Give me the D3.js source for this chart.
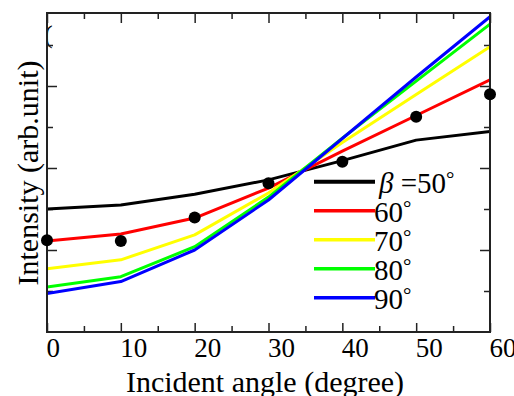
<!DOCTYPE html>
<html>
<head>
<meta charset="utf-8">
<script src="https://cdn.jsdelivr.net/npm/d3@7"></script>
<style>
  html, body { margin: 0; padding: 0; background: #fff; }
  svg { display: block; }
  svg text { font-family: "Liberation Serif", "Times New Roman", serif !important; fill: #000; }
</style>
</head>
<body>
<script>
// ---- data ----
const angles = [0, 10, 20, 30, 40, 50, 60];
const beta50 = [3.00, 3.10, 3.36, 3.71, 4.18, 4.68, 4.89];
const beta60 = [2.22, 2.39, 2.78, 3.51, 4.41, 5.28, 6.15];
const beta70 = [1.54, 1.76, 2.37, 3.39, 4.62, 5.79, 6.96];
const beta80 = [1.10, 1.35, 2.08, 3.29, 4.73, 6.12, 7.51];
const beta90 = [0.94, 1.23, 2.00, 3.22, 4.72, 6.22, 7.69];
const measured = [2.24, 2.22, 2.79, 3.63, 4.15, 5.25, 5.80];
const seriesNames = ["50", "60", "70", "80", "90"];
const seriesColors = ["#000000", "#ff0000", "#ffff00", "#00ff00", "#0000ff"];
const xMajorTicks = [0, 10, 20, 30, 40, 50, 60];
const xMinorTicks = [5, 15, 25, 35, 45, 55];
const yMajorTicks = [2, 4, 6];
const yMinorTicks = [1, 3, 5, 7];
const xTitle = "Incident angle (degree)";
const yTitle = "Intensity (arb.unit)";

const W = 514, H = 396;
const L = 47, R = 490, T = 13, B = 332;
const SERIF = '"Liberation Serif", "Times New Roman", serif';

const svg = d3.select("body").append("svg").attr("width", W).attr("height", H);

const x = d3.scaleLinear().domain([0, 60]).range([L, R]);
const y = d3.scaleLinear().domain([0, (B - T) / 41]).range([B, T]);

const allSeries = [beta50, beta60, beta70, beta80, beta90];

// clip
svg.append("clipPath").attr("id", "plotclip").append("rect")
  .attr("x", L).attr("y", T).attr("width", R - L).attr("height", B - T);

// small artifact "(" in top-left corner
svg.append("clipPath").attr("id", "artclip").append("rect")
  .attr("x", L + 1).attr("y", T).attr("width", 20).attr("height", 40);
svg.append("text").attr("clip-path", "url(#artclip)")
  .style("font-family", SERIF)
  .attr("x", L - 3).attr("y", 43).attr("font-size", 26).text("(");

// axes
const axisColor = "#222";
function styleAxis(g) {
  g.select(".domain").remove();
  g.selectAll(".tick line").attr("stroke", axisColor).attr("stroke-width", 1.5);
}
svg.append("g").attr("transform", `translate(0,${B})`)
  .call(d3.axisBottom(x).tickValues(xMajorTicks).tickSize(-9).tickPadding(25).tickFormat(d3.format("d")))
  .call(styleAxis)
  .call(g => g.attr("font-family", null).attr("font-size", null))
  .call(g => g.selectAll(".tick text")
    .attr("text-anchor", "start").attr("dy", 0).attr("x", -1)
    .style("font-family", SERIF).style("font-size", "27px").attr("fill", "#000"));
svg.append("g").attr("transform", `translate(0,${B})`)
  .call(d3.axisBottom(x).tickValues(xMinorTicks).tickSize(-6).tickFormat(""))
  .call(styleAxis);
svg.append("g").attr("transform", `translate(0,${T})`)
  .call(d3.axisTop(x).tickValues(xMajorTicks).tickSize(-10).tickFormat(""))
  .call(styleAxis);
svg.append("g").attr("transform", `translate(0,${T})`)
  .call(d3.axisTop(x).tickValues(xMinorTicks).tickSize(-6).tickFormat(""))
  .call(styleAxis);
svg.append("g").attr("transform", `translate(${L},0)`)
  .call(d3.axisLeft(y).tickValues(yMajorTicks).tickSize(-10).tickFormat(""))
  .call(styleAxis);
svg.append("g").attr("transform", `translate(${L},0)`)
  .call(d3.axisLeft(y).tickValues(yMinorTicks).tickSize(-6).tickFormat(""))
  .call(styleAxis);
svg.append("g").attr("transform", `translate(${R},0)`)
  .call(d3.axisRight(y).tickValues(yMajorTicks).tickSize(-10).tickFormat(""))
  .call(styleAxis);
svg.append("g").attr("transform", `translate(${R},0)`)
  .call(d3.axisRight(y).tickValues(yMinorTicks).tickSize(-6).tickFormat(""))
  .call(styleAxis);

// lines
const line = d3.line().x((d, i) => x(angles[i])).y(d => y(d));
const plot = svg.append("g").attr("clip-path", "url(#plotclip)");
allSeries.forEach((s, k) => {
  plot.append("path").datum(s)
    .attr("d", line).attr("fill", "none")
    .attr("stroke", seriesColors[k]).attr("stroke-width", 3)
    .attr("stroke-linejoin", "round");
});

// frame
svg.append("rect").attr("x", L).attr("y", T).attr("width", R - L).attr("height", B - T)
  .attr("fill", "none").attr("stroke", axisColor).attr("stroke-width", 2);

// measured dots
svg.append("g").selectAll("circle").data(measured).join("circle")
  .attr("cx", (d, i) => x(angles[i])).attr("cy", d => y(d)).attr("r", 6).attr("fill", "#000");

// legend
const lg = svg.append("g");
seriesNames.forEach((n, i) => {
  const ly = 181.7 + 29 * i;
  lg.append("line").attr("x1", 314).attr("x2", 375).attr("y1", ly).attr("y2", ly)
    .attr("stroke", seriesColors[i]).attr("stroke-width", i === 0 ? 4 : 3.5);
  const t = lg.append("text").attr("y", ly + 11)
    .style("font-family", SERIF).style("font-size", "29px");
  if (i === 0) {
    t.attr("x", 379);
    t.append("tspan").attr("font-style", "italic").text("β");
    t.append("tspan").text(" =" + n);
  } else {
    t.attr("x", 374);
    t.append("tspan").text(n);
  }
  t.append("tspan").attr("dy", -7).style("font-size", "21px").text("°");
});

// titles
svg.append("text").attr("x", 265).attr("y", 392).attr("text-anchor", "middle")
  .style("font-family", SERIF).style("font-size", "30px").text(xTitle);
svg.append("text").attr("transform", "translate(38,173) rotate(-90)")
  .attr("text-anchor", "middle")
  .style("font-family", SERIF).style("font-size", "30px").text(yTitle);
</script>
</body>
</html>
